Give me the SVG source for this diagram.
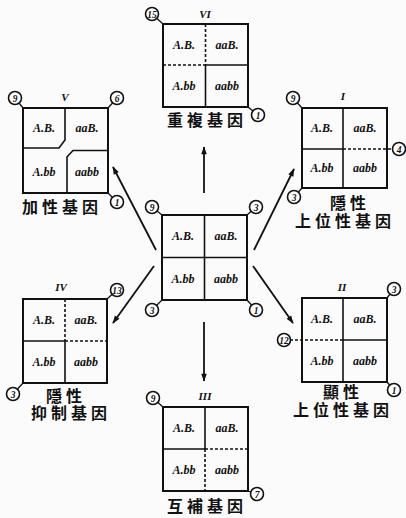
<svg xmlns="http://www.w3.org/2000/svg" width="406" height="518" viewBox="0 0 406 518">
<defs>
<marker id="ah" viewBox="0 0 10 10" refX="9" refY="5" markerWidth="10" markerHeight="8" markerUnits="userSpaceOnUse" orient="auto">
<path d="M0,1.5 L10,5 L0,8.5 Z" fill="#111"/>
</marker>
<style>
.box{fill:none;stroke:#111;stroke-width:2}
.d{stroke:#111;stroke-width:1.6;fill:none}
.dash{stroke:#111;stroke-width:1.6;stroke-dasharray:3,2;fill:none}
.cell{font-family:"Liberation Serif",serif;font-style:italic;font-weight:bold;font-size:12px;fill:#111;text-anchor:middle}
.rn{font-family:"Liberation Serif",serif;font-style:italic;font-weight:bold;font-size:11px;fill:#111;text-anchor:middle}
.cc{fill:#fff;stroke:#111;stroke-width:1.6}
.cn{font-family:"Liberation Serif",serif;font-style:italic;font-weight:bold;font-size:9.5px;fill:#111;text-anchor:middle}
.lk{stroke:#111;stroke-width:1.3}
.cj{font-family:"Liberation Sans","Noto Sans CJK TC",sans-serif;font-weight:bold;font-size:16px;fill:#111;text-anchor:middle;letter-spacing:4px}
.ar{stroke:#111;stroke-width:1.8;fill:none;marker-end:url(#ah)}
</style>
</defs>
<rect width="406" height="518" fill="#fbfbfb"/>

<g id="connectors">
<line class="ar" x1="204" y1="193" x2="204" y2="147"/>
<line class="ar" x1="204" y1="322" x2="204" y2="381"/>
<line class="ar" x1="156" y1="250" x2="113" y2="167"/>
<line class="ar" x1="254" y1="250" x2="294" y2="169"/>
<line class="ar" x1="154" y1="266" x2="113" y2="323"/>
<line class="ar" x1="253" y1="266" x2="293" y2="323"/>
</g>

<g id="center">
<rect x="162" y="215" width="85" height="85" fill="#fff" class="box"/>
<line class="d" x1="204.5" y1="215" x2="204.5" y2="300"/>
<line class="d" x1="162" y1="257.5" x2="247" y2="257.5"/>
<text class="cell" x="183" y="240">A.B.</text>
<text class="cell" x="226" y="240">aaB.</text>
<text class="cell" x="183" y="283">A.bb</text>
<text class="cell" x="226" y="283">aabb</text>
<line class="lk" x1="152" y1="207" x2="162" y2="215"/><circle class="cc" cx="152" cy="207" r="6.5"/><text class="cn" x="152" y="210.5">9</text>
<line class="lk" x1="256" y1="207" x2="247" y2="215"/><circle class="cc" cx="256" cy="207" r="6.5"/><text class="cn" x="256" y="210.5">3</text>
<line class="lk" x1="152" y1="310" x2="162" y2="300"/><circle class="cc" cx="152" cy="310" r="6.5"/><text class="cn" x="152" y="313.5">3</text>
<line class="lk" x1="256" y1="310" x2="247" y2="300"/><circle class="cc" cx="256" cy="310" r="6.5"/><text class="cn" x="256" y="313.5">1</text>
</g>

<g id="node-vi">
<text class="rn" x="205" y="18">VI</text>
<rect x="163" y="24" width="85" height="83" fill="#fff" class="box"/>
<line class="dash" x1="205.5" y1="24" x2="205.5" y2="65"/>
<line class="d" x1="205.5" y1="65" x2="205.5" y2="107"/>
<line class="dash" x1="163" y1="65" x2="205.5" y2="65"/>
<line class="d" x1="205.5" y1="65" x2="248" y2="65"/>
<text class="cell" x="184" y="49">A.B.</text>
<text class="cell" x="227" y="49">aaB.</text>
<text class="cell" x="184" y="90">A.bb</text>
<text class="cell" x="227" y="90">aabb</text>
<line class="lk" x1="152" y1="14" x2="163" y2="24"/><circle class="cc" cx="152" cy="14" r="6.5"/><text class="cn" x="152" y="17.5">15</text>
<line class="lk" x1="258" y1="115" x2="248" y2="107"/><circle class="cc" cx="258" cy="115" r="6.5"/><text class="cn" x="258" y="118.5">1</text>
<text class="cj" x="207" y="126">重複基因</text>
</g>

<g id="node-v">
<text class="rn" x="65" y="101">V</text>
<rect x="23" y="108" width="85" height="85" fill="#fff" class="box"/>
<polyline class="d" points="65,108 65,140 59,148 23,148"/>
<polyline class="d" points="108,150.5 73,150.5 67,157 67,193"/>
<text class="cell" x="44" y="132">A.B.</text>
<text class="cell" x="87" y="132">aaB.</text>
<text class="cell" x="44" y="176">A.bb</text>
<text class="cell" x="87" y="176">aabb</text>
<line class="lk" x1="15" y1="98" x2="23" y2="108"/><circle class="cc" cx="15" cy="98" r="6.5"/><text class="cn" x="15" y="101.5">9</text>
<line class="lk" x1="117" y1="98" x2="108" y2="108"/><circle class="cc" cx="117" cy="98" r="6.5"/><text class="cn" x="117" y="101.5">6</text>
<line class="lk" x1="117" y1="202" x2="108" y2="193"/><circle class="cc" cx="117" cy="202" r="6.5"/><text class="cn" x="117" y="205.5">1</text>
<text class="cj" x="62" y="213">加性基因</text>
</g>

<g id="node-i">
<text class="rn" x="343" y="100">I</text>
<rect x="302" y="108" width="85" height="80" fill="#fff" class="box"/>
<line class="d" x1="343" y1="108" x2="343" y2="188"/>
<line class="d" x1="302" y1="149" x2="343" y2="149"/>
<line class="dash" x1="343" y1="149" x2="394" y2="149"/>
<text class="cell" x="322" y="132">A.B.</text>
<text class="cell" x="365" y="132">aaB.</text>
<text class="cell" x="322" y="172">A.bb</text>
<text class="cell" x="365" y="172">aabb</text>
<line class="lk" x1="293" y1="98" x2="302" y2="108"/><circle class="cc" cx="293" cy="98" r="6.5"/><text class="cn" x="293" y="101.5">9</text>
<circle class="cc" cx="399" cy="149" r="6.5"/><text class="cn" x="399" y="152.5">4</text>
<line class="lk" x1="294" y1="197" x2="302" y2="188"/><circle class="cc" cx="294" cy="197" r="6.5"/><text class="cn" x="294" y="200.5">3</text>
<text class="cj" x="350" y="209">隱性</text>
<text class="cj" x="345" y="227">上位性基因</text>
</g>

<g id="node-iv">
<text class="rn" x="61" y="291">IV</text>
<rect x="23" y="299" width="84" height="84" fill="#fff" class="box"/>
<line class="dash" x1="65" y1="299" x2="65" y2="341"/>
<line class="d" x1="65" y1="341" x2="65" y2="383"/>
<line class="d" x1="23" y1="341" x2="65" y2="341"/>
<line class="dash" x1="65" y1="341" x2="107" y2="341"/>
<text class="cell" x="44" y="324">A.B.</text>
<text class="cell" x="86" y="324">aaB.</text>
<text class="cell" x="44" y="366">A.bb</text>
<text class="cell" x="86" y="366">aabb</text>
<line class="lk" x1="117" y1="290" x2="107" y2="299"/><circle class="cc" cx="117" cy="290" r="6.5"/><text class="cn" x="117" y="293.5">13</text>
<line class="lk" x1="13" y1="394" x2="23" y2="383"/><circle class="cc" cx="13" cy="394" r="6.5"/><text class="cn" x="13" y="397.5">3</text>
<text class="cj" x="66" y="402">隱性</text>
<text class="cj" x="71" y="419">抑制基因</text>
</g>

<g id="node-ii">
<text class="rn" x="342" y="291">II</text>
<rect x="302" y="298" width="85" height="84" fill="#fff" class="box"/>
<line class="d" x1="343" y1="298" x2="343" y2="382"/>
<line class="dash" x1="290" y1="340" x2="343" y2="340"/>
<line class="d" x1="343" y1="340" x2="387" y2="340"/>
<text class="cell" x="322" y="323">A.B.</text>
<text class="cell" x="365" y="323">aaB.</text>
<text class="cell" x="322" y="365">A.bb</text>
<text class="cell" x="365" y="365">aabb</text>
<line class="lk" x1="394" y1="289" x2="387" y2="298"/><circle class="cc" cx="394" cy="289" r="6.5"/><text class="cn" x="394" y="292.5">3</text>
<circle class="cc" cx="284" cy="340" r="6.5"/><text class="cn" x="284" y="343.5">12</text>
<line class="lk" x1="394" y1="390" x2="387" y2="382"/><circle class="cc" cx="394" cy="390" r="6.5"/><text class="cn" x="394" y="393.5">1</text>
<text class="cj" x="343" y="398">顯性</text>
<text class="cj" x="343" y="416">上位性基因</text>
</g>

<g id="node-iii">
<text class="rn" x="205" y="400">III</text>
<rect x="163" y="407" width="85" height="84" fill="#fff" class="box"/>
<line class="d" x1="205" y1="407" x2="205" y2="449"/>
<line class="dash" x1="205" y1="449" x2="205" y2="491"/>
<line class="d" x1="163" y1="449" x2="205" y2="449"/>
<line class="dash" x1="205" y1="449" x2="248" y2="449"/>
<text class="cell" x="184" y="432">A.B.</text>
<text class="cell" x="227" y="432">aaB.</text>
<text class="cell" x="184" y="474">A.bb</text>
<text class="cell" x="227" y="474">aabb</text>
<line class="lk" x1="153" y1="398" x2="163" y2="407"/><circle class="cc" cx="153" cy="398" r="6.5"/><text class="cn" x="153" y="401.5">9</text>
<line class="lk" x1="257" y1="494" x2="248" y2="491"/><circle class="cc" cx="257" cy="494" r="6.5"/><text class="cn" x="257" y="497.5">7</text>
<text class="cj" x="207" y="512">互補基因</text>
</g>
</svg>
